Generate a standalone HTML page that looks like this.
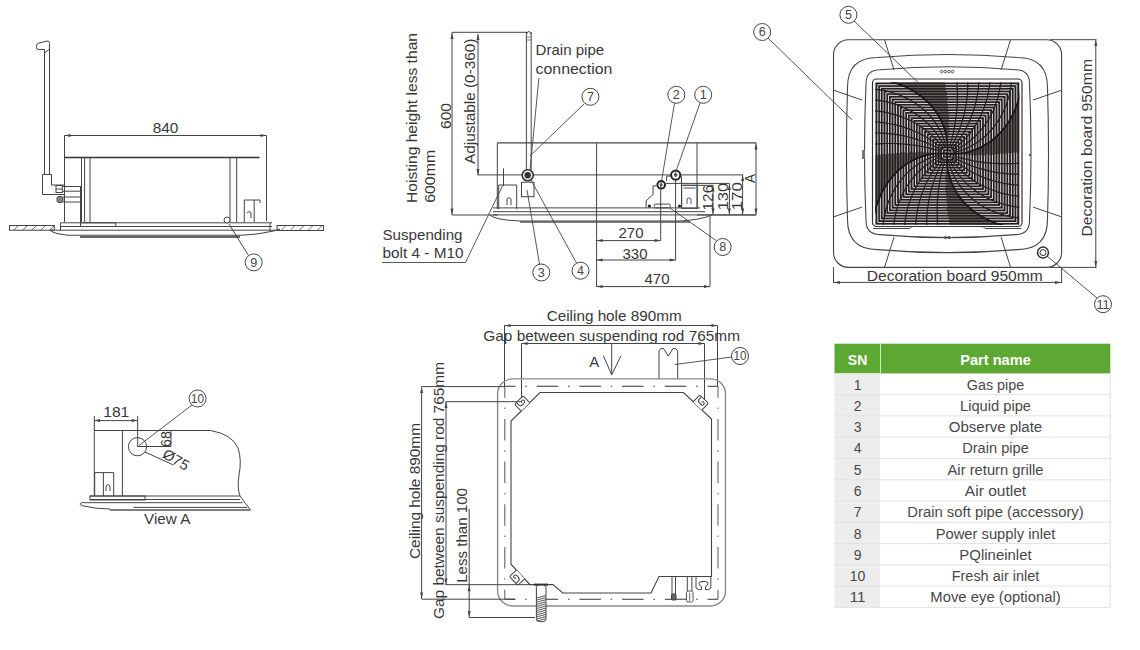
<!DOCTYPE html>
<html><head><meta charset="utf-8"><style>
html,body{margin:0;padding:0;background:#fff;width:1140px;height:650px;overflow:hidden}
svg{display:block;font-family:"Liberation Sans",sans-serif}
</style></head><body>
<svg width="1140" height="650" viewBox="0 0 1140 650">
<path d="M44.5,175 L44.5,49.5 L38.5,49.5 Q36.5,49.5 36.5,47.5 L36.5,45.5 Q36.8,43.5 39,43 L47,41 Q49.5,40.5 49.5,43.5 L49.5,175" stroke="#444" stroke-width="1" fill="none" />
<line x1="44.5" y1="53" x2="49.5" y2="49" stroke="#444" stroke-width="1" />
<path d="M42.5,174.5 L51.5,174.5 L51.5,185 L65,185 M42.5,174.5 L42.5,194.5 L65,194.5" stroke="#444" stroke-width="1" fill="none" />
<rect x="56" y="185.5" width="6.3" height="7" rx="0" stroke="#444" stroke-width="1" fill="none" />
<line x1="56" y1="189" x2="62.3" y2="189" stroke="#444" stroke-width="1" />
<path d="M62.3,186.5 L81,186.5 M62.3,191.2 L81,191.2" stroke="#444" stroke-width="1" fill="none" />
<rect x="57" y="196.5" width="6" height="6" rx="2" stroke="#444" stroke-width="1" fill="#888" />
<path d="M63,197 L80,197 M63,202 L80,202" stroke="#444" stroke-width="1" fill="none" />
<line x1="80.5" y1="186" x2="80.5" y2="222" stroke="#444" stroke-width="1" />
<line x1="64.5" y1="135.5" x2="266.5" y2="135.5" stroke="#444" stroke-width="1" />
<path d="M64.5,135.5 L70.5,134.0 L70.5,137.0 Z" fill="#444"/>
<path d="M266.5,135.5 L260.5,134.0 L260.5,137.0 Z" fill="#444"/>
<line x1="64.5" y1="135.5" x2="64.5" y2="222" stroke="#444" stroke-width="1" />
<line x1="266.5" y1="135.5" x2="266.5" y2="221" stroke="#444" stroke-width="1" />
<text x="165.5" y="132.8" font-size="14.6" fill="#383838" font-weight="normal" text-anchor="middle" textLength="25.7" lengthAdjust="spacingAndGlyphs"  >840</text>
<line x1="65" y1="157.5" x2="259.5" y2="157.5" stroke="#333" stroke-width="1.4" />
<line x1="81.5" y1="157.5" x2="81.5" y2="222" stroke="#444" stroke-width="1" />
<line x1="84.6" y1="157.5" x2="84.6" y2="222" stroke="#444" stroke-width="1" />
<line x1="90" y1="157.5" x2="90" y2="222" stroke="#444" stroke-width="1" />
<line x1="230" y1="157.5" x2="230" y2="222" stroke="#444" stroke-width="1" />
<line x1="236.7" y1="157.5" x2="236.7" y2="222" stroke="#444" stroke-width="1" />
<path d="M244.3,222 L244.3,200 L254.2,200 L254.2,222 M254.2,200 L260,200 L260,203" stroke="#444" stroke-width="1" fill="none" />
<path d="M247,213 Q249,210 251,213 L251,218" stroke="#444" stroke-width="1" fill="none" />
<path d="M60.5,222.8 L272,222.8 M60.5,226.5 L272,226.5 M50,230.2 L276,230.2 M60.5,222.8 L60.5,230.2 M270,222.8 L270,230.2" stroke="#444" stroke-width="1" fill="none" />
<rect x="80.5" y="222.8" width="35.3" height="3.7" rx="0" stroke="#444" stroke-width="1" fill="none" />
<rect x="9.5" y="225.5" width="44.8" height="4.699999999999989" rx="0" stroke="#444" stroke-width="1" fill="none" />
<line x1="13.5" y1="230.2" x2="18.5" y2="225.5" stroke="#444" stroke-width="0.8" />
<line x1="22.5" y1="230.2" x2="27.5" y2="225.5" stroke="#444" stroke-width="0.8" />
<line x1="31.5" y1="230.2" x2="36.5" y2="225.5" stroke="#444" stroke-width="0.8" />
<line x1="40.5" y1="230.2" x2="45.5" y2="225.5" stroke="#444" stroke-width="0.8" />
<line x1="49.5" y1="230.2" x2="54.5" y2="225.5" stroke="#444" stroke-width="0.8" />
<rect x="277" y="225.5" width="46.5" height="5.0" rx="0" stroke="#444" stroke-width="1" fill="none" />
<line x1="281" y1="230.5" x2="286" y2="225.5" stroke="#444" stroke-width="0.8" />
<line x1="290" y1="230.5" x2="295" y2="225.5" stroke="#444" stroke-width="0.8" />
<line x1="299" y1="230.5" x2="304" y2="225.5" stroke="#444" stroke-width="0.8" />
<line x1="308" y1="230.5" x2="313" y2="225.5" stroke="#444" stroke-width="0.8" />
<line x1="317" y1="230.5" x2="322" y2="225.5" stroke="#444" stroke-width="0.8" />
<path d="M50,230.2 Q55,234.5 68.5,235.3 L240,235.3 Q265,234 280,229" stroke="#444" stroke-width="1.1" fill="none" />
<path d="M80,237 L240,237" stroke="#333" stroke-width="1.6" fill="none" />
<circle cx="227" cy="220" r="3" stroke="#444" fill="#fff"/>
<line x1="229" y1="224" x2="248.5" y2="255.5" stroke="#444" stroke-width="1" />
<circle cx="253.7" cy="262.4" r="8.5" stroke="#444" stroke-width="1" fill="#fff"/>
<text x="253.7" y="266.7" font-size="12" fill="#444" font-weight="normal" text-anchor="middle" textLength="7" lengthAdjust="spacingAndGlyphs"  >9</text>
<text x="416.9" y="203" font-size="14.6" fill="#383838" font-weight="normal" text-anchor="start" textLength="170" lengthAdjust="spacingAndGlyphs" transform="rotate(-90 416.9 203)" >Hoisting height less than</text>
<text x="435.4" y="202.8" font-size="14.6" fill="#383838" font-weight="normal" text-anchor="start" textLength="53" lengthAdjust="spacingAndGlyphs" transform="rotate(-90 435.4 202.8)" >600mm</text>
<text x="450.8" y="129" font-size="14.6" fill="#383838" font-weight="normal" text-anchor="start" textLength="26" lengthAdjust="spacingAndGlyphs" transform="rotate(-90 450.8 129)" >600</text>
<text x="475.4" y="164" font-size="14.6" fill="#383838" font-weight="normal" text-anchor="start" textLength="125.5" lengthAdjust="spacingAndGlyphs" transform="rotate(-90 475.4 164)" >Adjustable (0-360)</text>
<line x1="452" y1="32.3" x2="452" y2="215" stroke="#444" stroke-width="1" />
<path d="M452,33 L450.5,39 L453.5,39 Z" fill="#444"/>
<path d="M452,214.5 L450.5,208.5 L453.5,208.5 Z" fill="#444"/>
<line x1="452" y1="32.3" x2="528" y2="32.3" stroke="#444" stroke-width="1" />
<line x1="478" y1="33.8" x2="478" y2="175.3" stroke="#444" stroke-width="1" />
<path d="M478,34 L476.5,40 L479.5,40 Z" fill="#444"/>
<path d="M478,175 L476.5,169 L479.5,169 Z" fill="#444"/>
<line x1="452" y1="215" x2="498" y2="215" stroke="#444" stroke-width="1" />
<path d="M526.4,32 L526.4,170 M531.2,32 L531.2,170" stroke="#444" stroke-width="1" fill="none" />
<path d="M526.4,34 Q528.8,29 531.2,34" stroke="#444" stroke-width="1" fill="none" />
<line x1="526.4" y1="37" x2="531.2" y2="37" stroke="#444" stroke-width="0.7" />
<line x1="526.4" y1="40" x2="531.2" y2="40" stroke="#444" stroke-width="0.7" />
<text x="535.6" y="55" font-size="14.6" fill="#383838" font-weight="normal" text-anchor="start" textLength="68.6" lengthAdjust="spacingAndGlyphs"  >Drain pipe</text>
<text x="535.6" y="73.7" font-size="14.6" fill="#383838" font-weight="normal" text-anchor="start" textLength="76.7" lengthAdjust="spacingAndGlyphs"  >connection</text>
<line x1="538.9" y1="78" x2="530" y2="170" stroke="#444" stroke-width="0.9" />
<line x1="497.3" y1="142.8" x2="756" y2="142.8" stroke="#444" stroke-width="1.2" />
<line x1="497.3" y1="142.8" x2="497.3" y2="209" stroke="#444" stroke-width="1" />
<line x1="697" y1="142.8" x2="697" y2="209" stroke="#444" stroke-width="1" />
<line x1="596.6" y1="142.8" x2="596.6" y2="287" stroke="#444" stroke-width="1" />
<line x1="478" y1="174.9" x2="742.6" y2="174.9" stroke="#444" stroke-width="1" />
<circle cx="527.7" cy="175.3" r="5.5" stroke="#333" stroke-width="1.6" fill="#fff"/><circle cx="527.7" cy="175.3" r="3.2" fill="#333"/>
<rect x="521.5" y="182.2" width="12.5" height="14.5" rx="0" stroke="#444" stroke-width="1" fill="none" />
<path d="M498.7,209 L498.7,185 L516.7,185 L516.7,209" stroke="#444" stroke-width="1" fill="none" />
<line x1="503.5" y1="168.4" x2="503.5" y2="186" stroke="#444" stroke-width="1" />
<path d="M507,205 L507,199 Q509,196 511,199 L511,205" stroke="#444" stroke-width="1" fill="none" />
<path d="M493,207.9 L700,207.9 M493,211.7 L705,211.7 M493,214.9 L756,214.9" stroke="#444" stroke-width="1" fill="none" />
<path d="M490,215 Q495,220 520,221 L680,221 Q700,220 712,215" stroke="#444" stroke-width="1" fill="none" />
<path d="M520,222 L690,222" stroke="#555" stroke-width="1.3" fill="none" />
<path d="M666.6,176.1 L666.6,181 M653.1,185.8 L656.5,185.8 M653.1,185.8 L653.1,194.4 L646.1,200.9 L646.1,207.5" stroke="#444" stroke-width="1" fill="none" />
<path d="M670.5,176.1 L666.6,176.1" stroke="#444" stroke-width="1" fill="none" />
<circle cx="675.7" cy="175.1" r="4.6" stroke="#222" stroke-width="2" fill="#fff"/><circle cx="675.7" cy="175.1" r="1.8" fill="#555"/>
<circle cx="661.2" cy="184.8" r="3.8" stroke="#222" stroke-width="2" fill="#fff"/><circle cx="661.2" cy="184.8" r="1.5" fill="#555"/>
<path d="M681.5,176.5 L681.5,206.5" stroke="#444" stroke-width="1" fill="none" />
<circle cx="649.4" cy="206" r="1.6" fill="#222"/><circle cx="679.5" cy="206" r="1.6" fill="#222"/>
<rect x="654.2" y="204.1" width="16.2" height="3.8" rx="1.5" stroke="#444" stroke-width="1" fill="none" />
<rect x="681.7" y="185.3" width="15.6" height="23.1" rx="0" stroke="#444" stroke-width="1" fill="none" />
<path d="M683.5,188 L695.5,188" stroke="#444" stroke-width="1" fill="none" />
<path d="M687,204 L687,199 Q689,196.5 691,199 L691,204" stroke="#444" stroke-width="0.9" fill="none" />
<line x1="697" y1="215" x2="756" y2="215" stroke="#444" stroke-width="1" />
<line x1="713" y1="185" x2="713" y2="215" stroke="#444" stroke-width="1" />
<line x1="683" y1="185.3" x2="713" y2="185.3" stroke="#444" stroke-width="1" />
<line x1="729.4" y1="183.4" x2="729.4" y2="215" stroke="#444" stroke-width="1" />
<line x1="666" y1="183.4" x2="729.4" y2="183.4" stroke="#444" stroke-width="1" />
<line x1="742.6" y1="174.4" x2="742.6" y2="215" stroke="#444" stroke-width="1" />
<line x1="756" y1="142.8" x2="756" y2="215" stroke="#444" stroke-width="1" />
<path d="M756,143.5 L754.5,149.5 L757.5,149.5 Z" fill="#444"/>
<path d="M756,214.5 L754.5,208.5 L757.5,208.5 Z" fill="#444"/>
<path d="M713,185.5 L711.5,191.5 L714.5,191.5 Z" fill="#444"/>
<path d="M713,214.5 L711.5,208.5 L714.5,208.5 Z" fill="#444"/>
<path d="M729.4,184 L727.9,190 L730.9,190 Z" fill="#444"/>
<path d="M729.4,214.5 L727.9,208.5 L730.9,208.5 Z" fill="#444"/>
<path d="M742.6,175 L741.1,181 L744.1,181 Z" fill="#444"/>
<path d="M742.6,214.5 L741.1,208.5 L744.1,208.5 Z" fill="#444"/>
<text x="713" y="197.6" font-size="14.6" fill="#383838" font-weight="normal" text-anchor="middle" textLength="25.6" lengthAdjust="spacingAndGlyphs" transform="rotate(-90 713 197.6)" >126</text>
<text x="727.5" y="196.5" font-size="14.6" fill="#383838" font-weight="normal" text-anchor="middle" textLength="27.7" lengthAdjust="spacingAndGlyphs" transform="rotate(-90 727.5 196.5)" >130</text>
<text x="742" y="196.2" font-size="14.6" fill="#383838" font-weight="normal" text-anchor="middle" textLength="28.4" lengthAdjust="spacingAndGlyphs" transform="rotate(-90 742 196.2)" >170</text>
<text x="755.2" y="178.5" font-size="14.6" fill="#383838" font-weight="normal" text-anchor="middle" textLength="9" lengthAdjust="spacingAndGlyphs" transform="rotate(-90 755.2 178.5)" >A</text>
<line x1="660.7" y1="186" x2="660.7" y2="240.6" stroke="#444" stroke-width="1" />
<line x1="675.6" y1="180" x2="675.6" y2="260" stroke="#444" stroke-width="1" />
<line x1="710" y1="215" x2="710" y2="286.6" stroke="#444" stroke-width="1" />
<line x1="596.6" y1="240.6" x2="660.7" y2="240.6" stroke="#444" stroke-width="1" />
<path d="M596.6,240.6 L602.6,239.1 L602.6,242.1 Z" fill="#444"/>
<path d="M660.7,240.6 L654.7,239.1 L654.7,242.1 Z" fill="#444"/>
<line x1="596.6" y1="260" x2="675.6" y2="260" stroke="#444" stroke-width="1" />
<path d="M596.6,260 L602.6,258.5 L602.6,261.5 Z" fill="#444"/>
<path d="M675.6,260 L669.6,258.5 L669.6,261.5 Z" fill="#444"/>
<line x1="596.6" y1="286.6" x2="710" y2="286.6" stroke="#444" stroke-width="1" />
<path d="M596.6,286.6 L602.6,285.1 L602.6,288.1 Z" fill="#444"/>
<path d="M710,286.6 L704,285.1 L704,288.1 Z" fill="#444"/>
<text x="631" y="238" font-size="14.6" fill="#383838" font-weight="normal" text-anchor="middle" textLength="25" lengthAdjust="spacingAndGlyphs"  >270</text>
<text x="635" y="258.5" font-size="14.6" fill="#383838" font-weight="normal" text-anchor="middle" textLength="25" lengthAdjust="spacingAndGlyphs"  >330</text>
<text x="657" y="284.3" font-size="14.6" fill="#383838" font-weight="normal" text-anchor="middle" textLength="25" lengthAdjust="spacingAndGlyphs"  >470</text>
<text x="382.5" y="239.8" font-size="14.6" fill="#383838" font-weight="normal" text-anchor="start" textLength="80" lengthAdjust="spacingAndGlyphs"  >Suspending</text>
<text x="382.5" y="258" font-size="14.6" fill="#383838" font-weight="normal" text-anchor="start" textLength="81" lengthAdjust="spacingAndGlyphs"  >bolt 4 - M10</text>
<path d="M382,262.5 L465.5,262.5 L502.4,186" stroke="#444" stroke-width="0.9" fill="none" />
<line x1="584" y1="104" x2="530" y2="156" stroke="#444" stroke-width="0.9" />
<circle cx="590.4" cy="96.8" r="8.5" stroke="#444" stroke-width="1" fill="#fff"/>
<text x="590.4" y="101.1" font-size="12" fill="#444" font-weight="normal" text-anchor="middle" textLength="7" lengthAdjust="spacingAndGlyphs"  >7</text>
<line x1="674.5" y1="103.3" x2="661" y2="184" stroke="#444" stroke-width="0.9" />
<circle cx="676.3" cy="94.8" r="8.5" stroke="#444" stroke-width="1" fill="#fff"/>
<text x="676.3" y="99.1" font-size="12" fill="#444" font-weight="normal" text-anchor="middle" textLength="7" lengthAdjust="spacingAndGlyphs"  >2</text>
<line x1="700" y1="103" x2="674.7" y2="175" stroke="#444" stroke-width="0.9" />
<circle cx="703.2" cy="94.8" r="8.5" stroke="#444" stroke-width="1" fill="#fff"/>
<text x="703.2" y="99.1" font-size="12" fill="#444" font-weight="normal" text-anchor="middle" textLength="7" lengthAdjust="spacingAndGlyphs"  >1</text>
<line x1="527" y1="190" x2="539.5" y2="264" stroke="#444" stroke-width="0.9" />
<circle cx="541.3" cy="272.5" r="8.5" stroke="#444" stroke-width="1" fill="#fff"/>
<text x="541.3" y="276.8" font-size="12" fill="#444" font-weight="normal" text-anchor="middle" textLength="7" lengthAdjust="spacingAndGlyphs"  >3</text>
<line x1="531" y1="180" x2="576.5" y2="263" stroke="#444" stroke-width="0.9" />
<circle cx="580.5" cy="270.7" r="8.5" stroke="#444" stroke-width="1" fill="#fff"/>
<text x="580.5" y="275.0" font-size="12" fill="#444" font-weight="normal" text-anchor="middle" textLength="7" lengthAdjust="spacingAndGlyphs"  >4</text>
<line x1="716.3" y1="240.6" x2="670" y2="208" stroke="#444" stroke-width="0.9" />
<circle cx="722.7" cy="247" r="8.5" stroke="#444" stroke-width="1" fill="#fff"/>
<text x="722.7" y="251.3" font-size="12" fill="#444" font-weight="normal" text-anchor="middle" textLength="7" lengthAdjust="spacingAndGlyphs"  >8</text>
<rect x="833.5" y="39.7" width="228.1" height="227.7" rx="15" fill="none" stroke="#444" stroke-width="1.1"/>
<path d="M877.5,57.5 Q947.5,51.5 1017.5,57.5 Q1047.5,57.5 1047.5,87.5 Q1049.5,153.55 1047.5,219.6 Q1047.5,249.6 1017.5,249.6 Q947.5,255.6 877.5,249.6 Q847.5,249.6 847.5,219.6 Q845.5,153.55 847.5,87.5 Q847.5,57.5 877.5,57.5 Z" fill="none" stroke="#444" stroke-width="1.1"/>
<path d="M880,69.8 Q947.75,63.8 1015.5,69.8 Q1029.5,69.8 1029.5,83.8 Q1032.5,152.2 1029.5,220.6 Q1029.5,234.6 1015.5,234.6 Q947.75,240.6 880,234.6 Q866,234.6 866,220.6 Q863,152.2 866,83.8 Q866,69.8 880,69.8 Z" fill="none" stroke="#444" stroke-width="1.1"/>
<line x1="884.5" y1="39.7" x2="894.0" y2="70.0" stroke="#444" stroke-width="1"/>
<line x1="884.5" y1="267.4" x2="894.0" y2="237.1" stroke="#444" stroke-width="1"/>
<line x1="1010.6" y1="39.7" x2="1001.1" y2="70.0" stroke="#444" stroke-width="1"/>
<line x1="1010.6" y1="267.4" x2="1001.1" y2="237.1" stroke="#444" stroke-width="1"/>
<line x1="833.5" y1="90.2" x2="862.0" y2="100.0" stroke="#444" stroke-width="1"/>
<line x1="833.5" y1="216.9" x2="862.0" y2="207.1" stroke="#444" stroke-width="1"/>
<line x1="1061.6" y1="90.2" x2="1033.1" y2="100.0" stroke="#444" stroke-width="1"/>
<line x1="1061.6" y1="216.9" x2="1033.1" y2="207.1" stroke="#444" stroke-width="1"/>
<rect x="872.5" y="79" width="149.5" height="147.5" rx="4" fill="#fff" stroke="#333" stroke-width="1.2"/><path d="M873,228.5 L910,228.5 L912,226.5 M1021.5,228.5 L985,228.5 L983,226.5" fill="none" stroke="#444" stroke-width="1"/>
<rect x="875.2" y="82.2" width="144.1" height="142.8" fill="#231f1e"/>
<clipPath id="gc"><rect x="875.2" y="82.2" width="144.1" height="142.8"/></clipPath>
<g clip-path="url(#gc)" fill="none">
<path d="M946.6 140.9L947.9 140.9M960.0 153.0L960.0 154.2M947.9 166.3L946.6 166.3M934.5 154.2L934.5 153.0M946.6 138.2L947.9 138.2M962.8 153.0L962.8 154.2M947.9 169.0L946.6 169.0M931.8 154.2L931.8 153.0M946.0 135.6L948.5 135.6M965.5 152.4L965.5 154.8M948.5 171.6L946.0 171.6M929.0 154.8L929.0 152.4M944.8 132.9L948.5 132.9M968.1 151.2L968.1 154.8M949.7 174.3L946.0 174.3M926.4 156.0L926.4 152.4M944.2 130.2L949.1 130.2M970.9 151.1L970.9 154.8M950.3 177.0L945.4 177.0M923.6 156.1L923.6 152.4M943.0 127.5L949.1 127.5M973.5 149.4L973.5 155.4M951.5 179.7L945.4 179.7M921.0 157.8L921.0 151.8M942.4 124.9L948.5 124.9M976.2 149.3L976.2 155.4M952.1 182.3L946.0 182.3M918.2 157.9L918.2 151.8M941.2 122.2L948.5 122.2M979.0 147.6L979.0 154.8M953.3 185.0L946.0 185.0M915.5 159.6L915.5 152.4M940.6 119.5L949.1 119.5M981.6 146.3L981.6 154.8M953.9 187.7L945.4 187.7M912.9 160.9L912.9 152.4M938.1 116.8L949.1 116.8M984.4 144.6L984.4 155.4M956.4 190.4L945.4 190.4M910.1 162.6L910.1 151.8M937.6 114.2L948.5 114.2M987.0 143.3L987.0 154.2M956.9 193.0L946.0 193.0M907.5 163.9L907.5 153.0M935.1 111.5L948.5 111.5M989.8 141.6L989.8 154.8M959.4 195.7L946.0 195.7M904.8 165.6L904.8 152.4M933.4 108.8L947.9 108.8M992.5 139.1L992.5 154.8M961.1 198.4L946.6 198.4M902.0 168.1L902.0 152.4M930.9 106.1L947.9 106.1M995.1 137.4L995.1 154.2M963.6 201.1L946.6 201.1M899.4 169.8L899.4 153.0M929.2 103.5L947.2 103.5M997.9 134.9L997.9 154.2M965.3 203.7L947.2 203.7M896.6 172.3L896.6 153.0M925.4 100.8L947.2 100.8M1000.6 132.0L1000.6 153.6M969.1 206.4L947.2 206.4M893.9 175.2L893.9 153.6M922.6 98.1L947.9 98.1M1003.2 128.3L1003.2 153.6M971.9 209.1L946.6 209.1M891.2 178.9L891.2 153.6M920.0 95.4L946.6 95.4M1006.0 125.7L1006.0 153.6M974.5 211.8L947.9 211.8M888.5 181.5L888.5 153.6M915.9 92.8L947.2 92.8M1008.6 121.7L1008.6 153.0M978.6 214.4L947.2 214.4M885.9 185.5L885.9 154.2M911.0 90.1L946.0 90.1M1011.4 116.7L1011.4 153.0M983.5 217.1L948.5 217.1M883.1 190.5L883.1 154.2M905.7 87.4L945.4 87.4M1014.1 111.5L1014.1 152.4M988.8 219.8L949.1 219.8M880.4 195.7L880.4 154.8M899.5 84.7L945.4 84.7M1016.8 104.1L1016.8 152.4M995.0 222.5L949.1 222.5M877.8 203.1L877.8 154.8M891.9 82.1L944.8 82.1M1019.5 95.3L1019.5 151.8M1002.6 225.1L949.7 225.1M875.0 211.9L875.0 155.4" stroke="#8f8984" stroke-width="0.7"/>
<path d="M945.2 151.6L949.2 151.6M949.2 151.6L949.2 155.6M949.2 155.6L945.2 155.6M945.2 155.6L945.2 151.6M942.5 148.9L952.0 148.9M952.0 148.9L952.0 158.3M952.0 158.3L942.5 158.3M942.5 158.3L942.5 148.9M939.9 146.3L954.6 146.3M954.6 146.3L954.6 160.9M954.6 160.9L939.9 160.9M939.9 160.9L939.9 146.3M937.1 143.6L957.4 143.6M957.4 143.6L957.4 163.6M957.4 163.6L937.1 163.6M937.1 163.6L937.1 143.6M934.5 140.9L946.6 140.9M947.9 140.9L960.0 140.9M960.0 140.9L960.0 153.0M960.0 154.2L960.0 166.3M960.0 166.3L947.9 166.3M946.6 166.3L934.5 166.3M934.5 166.3L934.5 154.2M934.5 153.0L934.5 140.9M931.8 138.2L946.6 138.2M947.9 138.2L962.8 138.2M962.8 138.2L962.8 153.0M962.8 154.2L962.8 169.0M962.8 169.0L947.9 169.0M946.6 169.0L931.8 169.0M931.8 169.0L931.8 154.2M931.8 153.0L931.8 138.2M929.0 135.6L946.0 135.6M948.5 135.6L965.5 135.6M965.5 135.6L965.5 152.4M965.5 154.8L965.5 171.6M965.5 171.6L948.5 171.6M946.0 171.6L929.0 171.6M929.0 171.6L929.0 154.8M929.0 152.4L929.0 135.6M926.4 132.9L944.8 132.9M948.5 132.9L968.1 132.9M968.1 132.9L968.1 151.2M968.1 154.8L968.1 174.3M968.1 174.3L949.7 174.3M946.0 174.3L926.4 174.3M926.4 174.3L926.4 156.0M926.4 152.4L926.4 132.9M923.6 130.2L944.2 130.2M949.1 130.2L970.9 130.2M970.9 130.2L970.9 151.1M970.9 154.8L970.9 177.0M970.9 177.0L950.3 177.0M945.4 177.0L923.6 177.0M923.6 177.0L923.6 156.1M923.6 152.4L923.6 130.2M921.0 127.5L943.0 127.5M949.1 127.5L973.5 127.5M973.5 127.5L973.5 149.4M973.5 155.4L973.5 179.7M973.5 179.7L951.5 179.7M945.4 179.7L921.0 179.7M921.0 179.7L921.0 157.8M921.0 151.8L921.0 127.5M918.2 124.9L942.4 124.9M948.5 124.9L976.2 124.9M976.2 124.9L976.2 149.3M976.2 155.4L976.2 182.3M976.2 182.3L952.1 182.3M946.0 182.3L918.2 182.3M918.2 182.3L918.2 157.9M918.2 151.8L918.2 124.9M915.5 122.2L941.2 122.2M948.5 122.2L979.0 122.2M979.0 122.2L979.0 147.6M979.0 154.8L979.0 185.0M979.0 185.0L953.3 185.0M946.0 185.0L915.5 185.0M915.5 185.0L915.5 159.6M915.5 152.4L915.5 122.2M912.9 119.5L940.6 119.5M949.1 119.5L981.6 119.5M981.6 119.5L981.6 146.3M981.6 154.8L981.6 187.7M981.6 187.7L953.9 187.7M945.4 187.7L912.9 187.7M912.9 187.7L912.9 160.9M912.9 152.4L912.9 119.5M910.1 116.8L938.1 116.8M949.1 116.8L984.4 116.8M984.4 116.8L984.4 144.6M984.4 155.4L984.4 190.4M984.4 190.4L956.4 190.4M945.4 190.4L910.1 190.4M910.1 190.4L910.1 162.6M910.1 151.8L910.1 116.8M907.5 114.2L937.6 114.2M948.5 114.2L987.0 114.2M987.0 114.2L987.0 143.3M987.0 154.2L987.0 193.0M987.0 193.0L956.9 193.0M946.0 193.0L907.5 193.0M907.5 193.0L907.5 163.9M907.5 153.0L907.5 114.2M904.8 111.5L935.1 111.5M948.5 111.5L989.8 111.5M989.8 111.5L989.8 141.6M989.8 154.8L989.8 195.7M989.8 195.7L959.4 195.7M946.0 195.7L904.8 195.7M904.8 195.7L904.8 165.6M904.8 152.4L904.8 111.5M902.0 108.8L933.4 108.8M947.9 108.8L992.5 108.8M992.5 108.8L992.5 139.1M992.5 154.8L992.5 198.4M992.5 198.4L961.1 198.4M946.6 198.4L902.0 198.4M902.0 198.4L902.0 168.1M902.0 152.4L902.0 108.8M899.4 106.1L930.9 106.1M947.9 106.1L995.1 106.1M995.1 106.1L995.1 137.4M995.1 154.2L995.1 201.1M995.1 201.1L963.6 201.1M946.6 201.1L899.4 201.1M899.4 201.1L899.4 169.8M899.4 153.0L899.4 106.1M896.6 103.5L929.2 103.5M947.2 103.5L997.9 103.5M997.9 103.5L997.9 134.9M997.9 154.2L997.9 203.7M997.9 203.7L965.3 203.7M947.2 203.7L896.6 203.7M896.6 203.7L896.6 172.3M896.6 153.0L896.6 103.5M893.9 100.8L925.4 100.8M947.2 100.8L1000.6 100.8M1000.6 100.8L1000.6 132.0M1000.6 153.6L1000.6 206.4M1000.6 206.4L969.1 206.4M947.2 206.4L893.9 206.4M893.9 206.4L893.9 175.2M893.9 153.6L893.9 100.8M891.2 98.1L922.6 98.1M947.9 98.1L1003.2 98.1M1003.2 98.1L1003.2 128.3M1003.2 153.6L1003.2 209.1M1003.2 209.1L971.9 209.1M946.6 209.1L891.2 209.1M891.2 209.1L891.2 178.9M891.2 153.6L891.2 98.1M888.5 95.4L920.0 95.4M946.6 95.4L1006.0 95.4M1006.0 95.4L1006.0 125.7M1006.0 153.6L1006.0 211.8M1006.0 211.8L974.5 211.8M947.9 211.8L888.5 211.8M888.5 211.8L888.5 181.5M888.5 153.6L888.5 95.4M885.9 92.8L915.9 92.8M947.2 92.8L1008.6 92.8M1008.6 92.8L1008.6 121.7M1008.6 153.0L1008.6 214.4M1008.6 214.4L978.6 214.4M947.2 214.4L885.9 214.4M885.9 214.4L885.9 185.5M885.9 154.2L885.9 92.8M883.1 90.1L911.0 90.1M946.0 90.1L1011.4 90.1M1011.4 90.1L1011.4 116.7M1011.4 153.0L1011.4 217.1M1011.4 217.1L983.5 217.1M948.5 217.1L883.1 217.1M883.1 217.1L883.1 190.5M883.1 154.2L883.1 90.1M880.4 87.4L905.7 87.4M945.4 87.4L1014.1 87.4M1014.1 87.4L1014.1 111.5M1014.1 152.4L1014.1 219.8M1014.1 219.8L988.8 219.8M949.1 219.8L880.4 219.8M880.4 219.8L880.4 195.7M880.4 154.8L880.4 87.4M877.8 84.7L899.5 84.7M945.4 84.7L1016.8 84.7M1016.8 84.7L1016.8 104.1M1016.8 152.4L1016.8 222.5M1016.8 222.5L995.0 222.5M949.1 222.5L877.8 222.5M877.8 222.5L877.8 203.1M877.8 154.8L877.8 84.7M875.0 82.1L891.9 82.1M944.8 82.1L1019.5 82.1M1019.5 82.1L1019.5 95.3M1019.5 151.8L1019.5 225.1M1019.5 225.1L1002.6 225.1M949.7 225.1L875.0 225.1M875.0 225.1L875.0 211.9M875.0 155.4L875.0 82.1" stroke="#e6e2de" stroke-width="0.95"/>
<path d="M941.6 151.6 L938.7 150.7 L935.8 149.9 L932.9 149.1 L930.0 148.4 L927.1 147.7 L924.2 147.0 L921.2 146.4 L918.3 145.9 L915.3 145.4 L912.3 145.0 L909.3 144.6 L906.3 144.3 L903.3 144.0 L900.3 143.8 L897.2 143.6 L894.2 143.5 L891.2 143.5 L888.1 143.5 L885.1 143.5 L882.0 143.6 L879.0 143.8 L875.9 144.0 L872.8 144.3M942.1 150.5 L939.5 149.0 L936.9 147.6 L934.2 146.3 L931.5 145.0 L928.7 143.8 L925.9 142.6 L923.1 141.5 L920.3 140.5 L917.4 139.5 L914.5 138.6 L911.6 137.8 L908.7 137.0 L905.7 136.3 L902.7 135.7 L899.7 135.1 L896.7 134.6 L893.7 134.2 L890.6 133.8 L887.5 133.5 L884.5 133.3 L881.4 133.1 L878.2 133.0 L875.1 133.0 L872.0 133.1M942.9 149.5 L940.6 147.5 L938.3 145.6 L936.0 143.7 L933.5 141.9 L931.0 140.2 L928.5 138.6 L925.9 137.0 L923.3 135.5 L920.6 134.1 L917.9 132.7 L915.1 131.5 L912.3 130.3 L909.5 129.1 L906.6 128.1 L903.7 127.1 L900.7 126.2 L897.7 125.4 L894.7 124.7 L891.6 124.0 L888.5 123.5 L885.4 123.0 L882.3 122.6 L879.1 122.3 L875.9 122.0 L872.7 121.9M943.9 148.6 L942.1 146.2 L940.2 143.9 L938.2 141.6 L936.2 139.4 L934.1 137.3 L931.9 135.2 L929.6 133.2 L927.2 131.3 L924.8 129.4 L922.3 127.6 L919.8 125.9 L917.2 124.3 L914.5 122.8 L911.7 121.3 L908.9 119.9 L906.1 118.7 L903.2 117.5 L900.2 116.4 L897.2 115.3 L894.1 114.4 L891.0 113.6 L887.9 112.9 L884.7 112.2 L881.5 111.7 L878.2 111.3 L874.9 110.9 L871.6 110.7M945.0 148.0 L943.8 145.3 L942.4 142.6 L940.9 140.0 L939.3 137.5 L937.6 135.0 L935.8 132.5 L933.9 130.1 L931.9 127.8 L929.8 125.6 L927.6 123.4 L925.3 121.3 L923.0 119.3 L920.5 117.4 L918.0 115.6 L915.4 113.8 L912.7 112.1 L909.9 110.6 L907.0 109.1 L904.1 107.7 L901.1 106.4 L898.0 105.2 L894.9 104.1 L891.7 103.2 L888.5 102.3 L885.2 101.5 L881.8 100.9 L878.4 100.4 L875.0 99.9 L871.5 99.6M946.3 147.7 L945.6 144.8 L944.8 141.9 L943.8 139.0 L942.7 136.2 L941.5 133.4 L940.2 130.7 L938.7 128.0 L937.1 125.4 L935.4 122.8 L933.6 120.3 L931.7 117.8 L929.6 115.5 L927.4 113.2 L925.2 111.0 L922.8 108.9 L920.3 106.8 L917.7 104.9 L915.0 103.0 L912.2 101.3 L909.3 99.6 L906.3 98.1 L903.2 96.6 L900.1 95.3 L896.8 94.1 L893.5 93.0 L890.1 92.0 L886.7 91.1 L883.2 90.4 L879.6 89.8 L875.9 89.3 L872.2 89.0M949.2 147.9 L950.1 145.1 L950.9 142.2 L951.7 139.3 L952.5 136.4 L953.2 133.5 L953.8 130.5 L954.4 127.6 L954.9 124.6 L955.4 121.6 L955.9 118.6 L956.2 115.7 L956.6 112.6 L956.8 109.6 L957.1 106.6 L957.2 103.6 L957.3 100.5 L957.4 97.5 L957.4 94.5 L957.3 91.4 L957.2 88.4 L957.1 85.3 L956.9 82.2 L956.6 79.2M950.4 148.5 L951.8 145.9 L953.2 143.2 L954.6 140.5 L955.9 137.8 L957.1 135.1 L958.3 132.3 L959.4 129.5 L960.4 126.6 L961.3 123.8 L962.2 120.9 L963.1 118.0 L963.9 115.0 L964.6 112.1 L965.2 109.1 L965.8 106.1 L966.3 103.1 L966.7 100.0 L967.1 97.0 L967.3 93.9 L967.6 90.8 L967.7 87.7 L967.8 84.6 L967.8 81.5 L967.8 78.4M951.4 149.3 L953.4 147.0 L955.3 144.7 L957.1 142.3 L958.9 139.9 L960.6 137.4 L962.3 134.9 L963.8 132.3 L965.3 129.7 L966.8 127.0 L968.1 124.3 L969.4 121.5 L970.6 118.7 L971.7 115.8 L972.8 112.9 L973.7 110.0 L974.6 107.1 L975.4 104.1 L976.2 101.0 L976.8 98.0 L977.4 94.9 L977.9 91.8 L978.3 88.6 L978.6 85.5 L978.8 82.3 L979.0 79.1M952.2 150.2 L954.6 148.4 L957.0 146.5 L959.2 144.6 L961.4 142.5 L963.6 140.4 L965.7 138.2 L967.7 135.9 L969.6 133.6 L971.4 131.2 L973.2 128.7 L974.9 126.1 L976.5 123.5 L978.1 120.8 L979.5 118.1 L980.9 115.3 L982.2 112.4 L983.4 109.5 L984.5 106.6 L985.5 103.5 L986.4 100.5 L987.3 97.4 L988.0 94.2 L988.6 91.0 L989.2 87.8 L989.6 84.6 L989.9 81.3 L990.2 77.9M952.8 151.4 L955.5 150.1 L958.2 148.7 L960.8 147.2 L963.4 145.6 L965.9 143.9 L968.3 142.1 L970.7 140.2 L973.0 138.2 L975.3 136.2 L977.4 134.0 L979.5 131.7 L981.5 129.3 L983.5 126.9 L985.3 124.3 L987.1 121.7 L988.7 119.0 L990.3 116.2 L991.8 113.4 L993.2 110.5 L994.4 107.5 L995.6 104.4 L996.7 101.3 L997.7 98.1 L998.5 94.8 L999.3 91.5 L999.9 88.2 L1000.5 84.8 L1000.9 81.3 L1001.2 77.9M953.2 152.6 L956.1 151.9 L959.0 151.1 L961.9 150.2 L964.7 149.1 L967.5 147.9 L970.2 146.5 L972.9 145.1 L975.5 143.5 L978.1 141.8 L980.6 140.0 L983.0 138.0 L985.4 136.0 L987.7 133.8 L989.9 131.5 L992.0 129.1 L994.0 126.6 L996.0 124.0 L997.8 121.3 L999.6 118.5 L1001.2 115.6 L1002.8 112.7 L1004.2 109.6 L1005.6 106.4 L1006.8 103.2 L1007.9 99.9 L1008.9 96.5 L1009.7 93.0 L1010.4 89.5 L1011.0 85.9 L1011.5 82.3 L1011.9 78.6M952.9 155.6 L955.8 156.5 L958.7 157.3 L961.6 158.1 L964.5 158.8 L967.4 159.5 L970.3 160.2 L973.3 160.8 L976.2 161.3 L979.2 161.8 L982.2 162.2 L985.2 162.6 L988.2 162.9 L991.2 163.2 L994.2 163.4 L997.3 163.6 L1000.3 163.7 L1003.3 163.7 L1006.4 163.7 L1009.4 163.7 L1012.5 163.6 L1015.5 163.4 L1018.6 163.2 L1021.7 162.9M952.4 156.7 L955.0 158.2 L957.6 159.6 L960.3 160.9 L963.0 162.2 L965.8 163.4 L968.6 164.6 L971.4 165.7 L974.2 166.7 L977.1 167.7 L980.0 168.6 L982.9 169.4 L985.8 170.2 L988.8 170.9 L991.8 171.5 L994.8 172.1 L997.8 172.6 L1000.8 173.0 L1003.9 173.4 L1007.0 173.7 L1010.0 173.9 L1013.1 174.1 L1016.3 174.2 L1019.4 174.2 L1022.5 174.1M951.6 157.7 L953.9 159.7 L956.2 161.6 L958.5 163.5 L961.0 165.3 L963.5 167.0 L966.0 168.6 L968.6 170.2 L971.2 171.7 L973.9 173.1 L976.6 174.5 L979.4 175.7 L982.2 176.9 L985.0 178.1 L987.9 179.1 L990.8 180.1 L993.8 181.0 L996.8 181.8 L999.8 182.5 L1002.9 183.2 L1006.0 183.7 L1009.1 184.2 L1012.2 184.6 L1015.4 184.9 L1018.6 185.2 L1021.8 185.3M950.6 158.6 L952.4 161.0 L954.3 163.3 L956.3 165.6 L958.3 167.8 L960.4 169.9 L962.6 172.0 L964.9 174.0 L967.3 175.9 L969.7 177.8 L972.2 179.6 L974.7 181.3 L977.3 182.9 L980.0 184.4 L982.8 185.9 L985.6 187.3 L988.4 188.5 L991.3 189.7 L994.3 190.8 L997.3 191.9 L1000.4 192.8 L1003.5 193.6 L1006.6 194.3 L1009.8 195.0 L1013.0 195.5 L1016.3 195.9 L1019.6 196.3 L1022.9 196.5M949.5 159.2 L950.7 161.9 L952.1 164.6 L953.6 167.2 L955.2 169.7 L956.9 172.2 L958.7 174.7 L960.6 177.1 L962.6 179.4 L964.7 181.6 L966.9 183.8 L969.2 185.9 L971.5 187.9 L974.0 189.8 L976.5 191.6 L979.1 193.4 L981.8 195.1 L984.6 196.6 L987.5 198.1 L990.4 199.5 L993.4 200.8 L996.5 202.0 L999.6 203.1 L1002.8 204.0 L1006.0 204.9 L1009.3 205.7 L1012.7 206.3 L1016.1 206.8 L1019.5 207.3 L1023.0 207.6M948.2 159.5 L948.9 162.4 L949.7 165.3 L950.7 168.2 L951.8 171.0 L953.0 173.8 L954.3 176.5 L955.8 179.2 L957.4 181.8 L959.1 184.4 L960.9 186.9 L962.8 189.4 L964.9 191.7 L967.1 194.0 L969.3 196.2 L971.7 198.3 L974.2 200.4 L976.8 202.3 L979.5 204.2 L982.3 205.9 L985.2 207.6 L988.2 209.1 L991.3 210.6 L994.4 211.9 L997.7 213.1 L1001.0 214.2 L1004.4 215.2 L1007.8 216.1 L1011.3 216.8 L1014.9 217.4 L1018.6 217.9 L1022.3 218.2M945.3 159.3 L944.4 162.1 L943.6 165.0 L942.8 167.9 L942.0 170.8 L941.3 173.7 L940.7 176.7 L940.1 179.6 L939.6 182.6 L939.1 185.6 L938.6 188.6 L938.3 191.5 L937.9 194.6 L937.7 197.6 L937.4 200.6 L937.3 203.6 L937.2 206.7 L937.1 209.7 L937.1 212.7 L937.2 215.8 L937.3 218.8 L937.4 221.9 L937.6 225.0 L937.9 228.0M944.1 158.7 L942.7 161.3 L941.3 164.0 L939.9 166.7 L938.6 169.4 L937.4 172.1 L936.2 174.9 L935.1 177.7 L934.1 180.6 L933.2 183.4 L932.3 186.3 L931.4 189.2 L930.6 192.2 L929.9 195.1 L929.3 198.1 L928.7 201.1 L928.2 204.1 L927.8 207.2 L927.4 210.2 L927.2 213.3 L926.9 216.4 L926.8 219.5 L926.7 222.6 L926.7 225.7 L926.7 228.8M943.1 157.9 L941.1 160.2 L939.2 162.5 L937.4 164.9 L935.6 167.3 L933.9 169.8 L932.2 172.3 L930.7 174.9 L929.2 177.5 L927.7 180.2 L926.4 182.9 L925.1 185.7 L923.9 188.5 L922.8 191.4 L921.7 194.3 L920.8 197.2 L919.9 200.1 L919.1 203.1 L918.3 206.2 L917.7 209.2 L917.1 212.3 L916.6 215.4 L916.2 218.6 L915.9 221.7 L915.7 224.9 L915.5 228.1M942.3 157.0 L939.9 158.8 L937.5 160.7 L935.3 162.6 L933.1 164.7 L930.9 166.8 L928.8 169.0 L926.8 171.3 L924.9 173.6 L923.1 176.0 L921.3 178.5 L919.6 181.1 L918.0 183.7 L916.4 186.4 L915.0 189.1 L913.6 191.9 L912.3 194.8 L911.1 197.7 L910.0 200.6 L909.0 203.7 L908.1 206.7 L907.2 209.8 L906.5 213.0 L905.9 216.2 L905.3 219.4 L904.9 222.6 L904.6 225.9 L904.3 229.3M941.7 155.8 L939.0 157.1 L936.3 158.5 L933.7 160.0 L931.1 161.6 L928.6 163.3 L926.2 165.1 L923.8 167.0 L921.5 169.0 L919.2 171.0 L917.1 173.2 L915.0 175.5 L913.0 177.9 L911.0 180.3 L909.2 182.9 L907.4 185.5 L905.8 188.2 L904.2 191.0 L902.7 193.8 L901.3 196.7 L900.1 199.7 L898.9 202.8 L897.8 205.9 L896.8 209.1 L896.0 212.4 L895.2 215.7 L894.6 219.0 L894.0 222.4 L893.6 225.9 L893.3 229.3M941.3 154.6 L938.4 155.3 L935.5 156.1 L932.6 157.0 L929.8 158.1 L927.0 159.3 L924.3 160.7 L921.6 162.1 L919.0 163.7 L916.4 165.4 L913.9 167.2 L911.5 169.2 L909.1 171.2 L906.8 173.4 L904.6 175.7 L902.5 178.1 L900.5 180.6 L898.5 183.2 L896.7 185.9 L894.9 188.7 L893.3 191.6 L891.7 194.5 L890.3 197.6 L888.9 200.8 L887.7 204.0 L886.6 207.3 L885.6 210.7 L884.8 214.2 L884.1 217.7 L883.5 221.3 L883.0 224.9 L882.6 228.6" stroke="#231f1e" stroke-width="1.2"/>
<path d="M947.3 153.1 L947.5 151.1 L947.5 149.1 L947.6 147.1 L947.5 145.1 L947.4 143.1 L947.2 141.1 L947.0 139.1 L946.6 137.1 L946.3 135.1 L945.8 133.2 L945.3 131.2 L944.7 129.2 L944.1 127.3 L943.3 125.4 L942.6 123.5 L941.7 121.6 L940.8 119.7 L939.8 117.9 L938.8 116.0 L937.7 114.2 L936.5 112.5 L935.3 110.7 L934.0 109.0 L932.7 107.3 L931.3 105.7 L929.8 104.1 L928.3 102.5 L926.7 101.0 L925.1 99.5 L923.4 98.0 L921.6 96.6 L919.8 95.2 L918.0 93.9 L916.1 92.6 L914.1 91.4 L912.1 90.2 L910.0 89.1 L907.9 88.0 L905.8 86.9 L903.6 86.0 L901.4 85.0 L899.1 84.2 L896.7 83.4 L894.4 82.6 L892.0 81.9 L889.5 81.3 L887.1 80.7 L884.6 80.2 L882.0 79.8M947.7 153.6 L949.7 153.8 L951.7 153.9 L953.7 153.9 L955.7 153.9 L957.7 153.7 L959.7 153.6 L961.7 153.3 L963.7 153.0 L965.7 152.6 L967.7 152.2 L969.7 151.6 L971.6 151.1 L973.6 150.4 L975.5 149.7 L977.4 148.9 L979.3 148.1 L981.1 147.2 L983.0 146.2 L984.8 145.1 L986.6 144.0 L988.4 142.9 L990.1 141.7 L991.8 140.4 L993.5 139.0 L995.2 137.6 L996.8 136.2 L998.3 134.6 L999.9 133.1 L1001.4 131.4 L1002.8 129.7 L1004.3 128.0 L1005.6 126.2 L1007.0 124.3 L1008.2 122.4 L1009.5 120.5 L1010.7 118.5 L1011.8 116.4 L1012.9 114.3 L1013.9 112.1 L1014.9 109.9 L1015.8 107.7 L1016.7 105.4 L1017.5 103.1 L1018.2 100.7 L1018.9 98.3 L1019.5 95.9 L1020.1 93.4 L1020.6 90.9 L1021.0 88.4 L1021.4 85.8M947.2 154.1 L947.0 156.1 L947.0 158.1 L946.9 160.1 L947.0 162.1 L947.1 164.1 L947.3 166.1 L947.5 168.1 L947.9 170.1 L948.2 172.1 L948.7 174.0 L949.2 176.0 L949.8 178.0 L950.4 179.9 L951.2 181.8 L951.9 183.7 L952.8 185.6 L953.7 187.5 L954.7 189.3 L955.7 191.2 L956.8 193.0 L958.0 194.7 L959.2 196.5 L960.5 198.2 L961.8 199.9 L963.2 201.5 L964.7 203.1 L966.2 204.7 L967.8 206.2 L969.4 207.7 L971.1 209.2 L972.9 210.6 L974.7 212.0 L976.5 213.3 L978.4 214.6 L980.4 215.8 L982.4 217.0 L984.5 218.1 L986.6 219.2 L988.7 220.3 L990.9 221.2 L993.1 222.2 L995.4 223.0 L997.8 223.8 L1000.1 224.6 L1002.5 225.3 L1005.0 225.9 L1007.4 226.5 L1009.9 227.0 L1012.5 227.4M946.8 153.6 L944.8 153.4 L942.8 153.3 L940.8 153.3 L938.8 153.3 L936.8 153.5 L934.8 153.6 L932.8 153.9 L930.8 154.2 L928.8 154.6 L926.8 155.0 L924.8 155.6 L922.9 156.1 L920.9 156.8 L919.0 157.5 L917.1 158.3 L915.2 159.1 L913.4 160.0 L911.5 161.0 L909.7 162.1 L907.9 163.2 L906.1 164.3 L904.4 165.5 L902.7 166.8 L901.0 168.2 L899.3 169.6 L897.7 171.0 L896.2 172.6 L894.6 174.1 L893.1 175.8 L891.7 177.5 L890.2 179.2 L888.9 181.0 L887.5 182.9 L886.3 184.8 L885.0 186.7 L883.8 188.7 L882.7 190.8 L881.6 192.9 L880.6 195.1 L879.6 197.3 L878.7 199.5 L877.8 201.8 L877.0 204.1 L876.3 206.5 L875.6 208.9 L875.0 211.3 L874.4 213.8 L873.9 216.3 L873.5 218.8 L873.1 221.4" stroke="#1a1716" stroke-width="1.8"/>
</g>
<g fill="none" stroke="#444" stroke-width="0.9"><circle cx="941.5" cy="71.6" r="1.3"/><circle cx="945.2" cy="71.6" r="1.3"/><circle cx="948.9" cy="71.6" r="1.3"/><circle cx="952.6" cy="71.6" r="1.3"/></g>
<g fill="none" stroke="#444" stroke-width="0.9"><circle cx="945.5" cy="237.5" r="1.2"/><circle cx="949" cy="237.5" r="1.2"/></g>
<rect x="862" y="150" width="3" height="9" fill="#777"/>
<circle cx="1030" cy="155" r="1.2" fill="#555"/>
<circle cx="1043" cy="252.6" r="5.5" fill="#fff" stroke="#333" stroke-width="1.5"/><circle cx="1043" cy="252.6" r="3" fill="#fff" stroke="#333" stroke-width="1"/>
<line x1="1050" y1="39.7" x2="1096.5" y2="39.7" stroke="#444"/><line x1="1050" y1="267.4" x2="1096.5" y2="267.4" stroke="#444"/>
<line x1="1095.8" y1="39.7" x2="1095.8" y2="267.4" stroke="#444"/>
<path d="M1095.8,40 L1094.3,46 L1097.3,46 Z M1095.8,267 L1094.3,261 L1097.3,261 Z" fill="#444"/>
<line x1="833.5" y1="267" x2="833.5" y2="283" stroke="#444"/><line x1="1061.6" y1="267" x2="1061.6" y2="283" stroke="#444"/>
<line x1="833.5" y1="282.4" x2="1061.6" y2="282.4" stroke="#444"/>
<path d="M834,282.4 L840,280.9 L840,283.9 Z M1061,282.4 L1055,280.9 L1055,283.9 Z" fill="#444"/>
<text x="866.8" y="280.5" font-size="14" fill="#383838" textLength="176" lengthAdjust="spacingAndGlyphs">Decoration board 950mm</text>
<text x="1092.3" y="236.5" font-size="14" fill="#383838" textLength="177.5" lengthAdjust="spacingAndGlyphs" transform="rotate(-90 1092.3 236.5)">Decoration board 950mm</text>
<line x1="768" y1="38" x2="852" y2="119.8" stroke="#444" stroke-width="0.9"/>
<line x1="853" y1="20" x2="918.5" y2="82.8" stroke="#444" stroke-width="0.9"/>
<line x1="1097" y1="298" x2="1047" y2="256" stroke="#444" stroke-width="0.9"/>
<circle cx="762.2" cy="32" r="8.5" stroke="#444" fill="#fff"/><text x="762.2" y="36.3" font-size="12" fill="#444" text-anchor="middle" textLength="7" lengthAdjust="spacingAndGlyphs">6</text>
<circle cx="848.4" cy="14.8" r="8.5" stroke="#444" fill="#fff"/><text x="848.4" y="19.1" font-size="12" fill="#444" text-anchor="middle" textLength="7" lengthAdjust="spacingAndGlyphs">5</text>
<circle cx="1103" cy="304.2" r="8.5" stroke="#444" fill="#fff"/><text x="1103" y="308.5" font-size="12" fill="#444" text-anchor="middle" textLength="13" lengthAdjust="spacingAndGlyphs">11</text>
<text x="116.3" y="417.4" font-size="14.6" fill="#383838" font-weight="normal" text-anchor="middle" textLength="26" lengthAdjust="spacingAndGlyphs"  >181</text>
<line x1="94" y1="420.6" x2="137.7" y2="420.6" stroke="#444" stroke-width="1" />
<path d="M94,420.6 L100,419.1 L100,422.1 Z" fill="#444"/>
<path d="M137.7,420.6 L131.7,419.1 L131.7,422.1 Z" fill="#444"/>
<line x1="94.3" y1="416" x2="94.3" y2="496" stroke="#444" stroke-width="1" />
<line x1="137.7" y1="416" x2="137.7" y2="446.5" stroke="#444" stroke-width="1" />
<path d="M94,430.5 L210.4,430.5 Q232,434 238,448 Q242,460 239,475 Q237,488 240,496" stroke="#444" stroke-width="1" fill="none" />
<line x1="122.4" y1="430.5" x2="122.4" y2="496" stroke="#444" stroke-width="1" />
<circle cx="137.5" cy="446.7" r="9.1" stroke="#444" fill="#fff"/>
<line x1="137.7" y1="437" x2="137.7" y2="446.5" stroke="#444" stroke-width="1" />
<line x1="137" y1="446.5" x2="171" y2="446.5" stroke="#444" stroke-width="1" />
<line x1="171" y1="430.5" x2="171" y2="446.5" stroke="#444" stroke-width="1" />
<text x="170.5" y="439" font-size="14.6" fill="#383838" font-weight="normal" text-anchor="middle" textLength="16" lengthAdjust="spacingAndGlyphs" transform="rotate(-90 170.5 439)" >68</text>
<line x1="145" y1="452" x2="173.4" y2="465" stroke="#444" stroke-width="1" />
<text x="173.5" y="464" font-size="14.6" fill="#383838" font-weight="normal" text-anchor="middle" textLength="28" lengthAdjust="spacingAndGlyphs" transform="rotate(30 173.5 464)" >Ø75</text>
<line x1="192" y1="405" x2="139" y2="445.5" stroke="#444" stroke-width="0.9" />
<circle cx="197.6" cy="398.5" r="8.5" stroke="#444" stroke-width="1" fill="#fff"/>
<text x="197.6" y="402.8" font-size="12" fill="#444" font-weight="normal" text-anchor="middle" textLength="13" lengthAdjust="spacingAndGlyphs"  >10</text>
<path d="M94.7,496 L94.7,472.6 L113.7,472.6 L113.7,496 M103.4,472.6 L103.4,496" stroke="#444" stroke-width="1" fill="none" />
<path d="M106,491 L106,486 Q108,483 110,486 L110,491" stroke="#444" stroke-width="1" fill="none" />
<path d="M90,496 L240,496 L250.4,510 M90,499.5 L240,499.5 M81.3,502.7 L242.5,502.7 M133.5,507.4 L247,507.4" stroke="#444" stroke-width="1" fill="none" />
<path d="M81.3,502.7 Q78,505 84,506 Q95,509 110,509" stroke="#444" stroke-width="1" fill="none" />
<path d="M110,510 L250.4,510" stroke="#555" stroke-width="1.5" fill="none" />
<rect x="90" y="496" width="55" height="4" rx="0" stroke="#444" stroke-width="1" fill="none" />
<text x="144" y="524" font-size="14.6" fill="#383838" font-weight="normal" text-anchor="start" textLength="46.3" lengthAdjust="spacingAndGlyphs"  >View A</text>
<text x="546.7" y="320.7" font-size="14.6" fill="#383838" font-weight="normal" text-anchor="start" textLength="135" lengthAdjust="spacingAndGlyphs"  >Ceiling hole 890mm</text>
<line x1="504.5" y1="325.5" x2="717.5" y2="325.5" stroke="#444" stroke-width="1" />
<path d="M504.5,325.5 L510.5,324.0 L510.5,327.0 Z" fill="#444"/>
<path d="M717.5,325.5 L711.5,324.0 L711.5,327.0 Z" fill="#444"/>
<line x1="504.5" y1="325.5" x2="504.5" y2="386" stroke="#444" stroke-width="1" />
<line x1="717.5" y1="325.5" x2="717.5" y2="386" stroke="#444" stroke-width="1" />
<text x="483.3" y="340.7" font-size="14.6" fill="#383838" font-weight="normal" text-anchor="start" textLength="256.7" lengthAdjust="spacingAndGlyphs"  >Gap between suspending rod 765mm</text>
<line x1="521.5" y1="343.5" x2="704.5" y2="343.5" stroke="#444" stroke-width="1" />
<path d="M521.5,343.5 L527.5,342.0 L527.5,345.0 Z" fill="#444"/>
<path d="M704.5,343.5 L698.5,342.0 L698.5,345.0 Z" fill="#444"/>
<line x1="521.5" y1="343.5" x2="521.5" y2="401" stroke="#444" stroke-width="1" />
<line x1="704.5" y1="343.5" x2="704.5" y2="401" stroke="#444" stroke-width="1" />
<line x1="611.7" y1="343.3" x2="611.7" y2="375" stroke="#444" stroke-width="1" />
<path d="M603.4,355.8 L611.7,374.8 L621,355.8" stroke="#444" stroke-width="1" fill="none" />
<text x="594.3" y="367" font-size="14.6" fill="#383838" font-weight="normal" text-anchor="middle" textLength="10" lengthAdjust="spacingAndGlyphs"  >A</text>
<path d="M659,379 L659,351 Q660.5,347.5 663.5,348.5 L668.3,356 L673,348.5 Q676.2,347.5 677.7,351 L677.7,379" stroke="#444" stroke-width="1" fill="none" />
<line x1="674.8" y1="364.5" x2="732" y2="357" stroke="#444" stroke-width="0.9" />
<circle cx="740" cy="356" r="8.5" stroke="#444" stroke-width="1" fill="#fff"/>
<text x="740" y="360.3" font-size="12" fill="#444" font-weight="normal" text-anchor="middle" textLength="13" lengthAdjust="spacingAndGlyphs"  >10</text>
<rect x="497.6" y="378.9" width="227.9" height="227.1" rx="15" stroke="#8a8a8a" stroke-width="1.4" fill="none" />
<path d="M504.8,386.2 L718,386.2" fill="none" stroke="#333" stroke-width="1.1" stroke-dasharray="21.5,9.8,1.5,9.9" stroke-dashoffset="10.8"/>
<path d="M504.8,599.2 L718,599.2" fill="none" stroke="#333" stroke-width="1.1" stroke-dasharray="21.5,9.8,1.5,9.9" stroke-dashoffset="10.8"/>
<path d="M504.8,386.2 L504.8,599.6" fill="none" stroke="#666" stroke-width="1.1" stroke-dasharray="21.5,9.8,1.5,9.9" stroke-dashoffset="10"/>
<path d="M718,386.2 L718,599.2" fill="none" stroke="#666" stroke-width="1.1" stroke-dasharray="21.5,9.8,1.5,9.9" stroke-dashoffset="10"/>
<path d="M540,392.5 L683.5,392.5 L711.5,419 L711.5,576.5 L659,576.5 L651,593 L562.7,593 L553,584.6 L530,584.6 L511,564.2 L511,421 Z" stroke="#444" stroke-width="1.1" fill="none" />
<g transform="translate(525.5 406.8) rotate(-45)"><path d="M-6,0 L-6,-8 Q-6,-9.5 -4.5,-9.5 L4.5,-9.5 Q6,-9.5 6,-8 L6,0" fill="#fff" stroke="#444"/><path d="M-3.5,-9.5 L-3.5,-6.5 Q-3.5,-3.5 -0.5,-3.5 L1.5,-3.5 Q3.5,-3.5 3.5,-5.5 Q3.5,-7 2,-7 Q0.5,-7 0.5,-5.5" fill="none" stroke="#444"/></g>
<g transform="translate(697.5 406) rotate(43.4)"><path d="M-6,0 L-6,-8 Q-6,-9.5 -4.5,-9.5 L4.5,-9.5 Q6,-9.5 6,-8 L6,0" fill="#fff" stroke="#444"/><path d="M-3.5,-9.5 L-3.5,-6.5 Q-3.5,-3.5 -0.5,-3.5 L1.5,-3.5 Q3.5,-3.5 3.5,-5.5 Q3.5,-7 2,-7 Q0.5,-7 0.5,-5.5" fill="none" stroke="#444"/></g>
<g transform="translate(520.5 574.4) rotate(227)"><path d="M-6,0 L-6,-8 Q-6,-9.5 -4.5,-9.5 L4.5,-9.5 Q6,-9.5 6,-8 L6,0" fill="#fff" stroke="#444"/><path d="M-3.5,-9.5 L-3.5,-6.5 Q-3.5,-3.5 -0.5,-3.5 L1.5,-3.5 Q3.5,-3.5 3.5,-5.5 Q3.5,-7 2,-7 Q0.5,-7 0.5,-5.5" fill="none" stroke="#444"/></g>
<path d="M696,576.5 L696,588 L698.5,589.6 L701.5,589.6 L701.5,586.5 Q699,585.5 699,583.5 Q699,581.5 702,581.5 L705,581.5 Q708,581.5 708,583.5 Q708,585.5 705.5,586.5 L705.5,589.6 L708.5,589.6 L710.8,588 L710.8,576.5" stroke="#444" stroke-width="1" fill="none" />
<line x1="421.6" y1="386.6" x2="421.6" y2="599" stroke="#444" stroke-width="1" />
<path d="M421.6,387 L420.1,393 L423.1,393 Z" fill="#444"/>
<path d="M421.6,598.5 L420.1,592.5 L423.1,592.5 Z" fill="#444"/>
<line x1="421.6" y1="386.6" x2="505" y2="386.6" stroke="#444" stroke-width="1" />
<line x1="421.6" y1="599.2" x2="515" y2="599.2" stroke="#444" stroke-width="1" />
<line x1="446" y1="401.7" x2="446" y2="585" stroke="#444" stroke-width="1" />
<path d="M446,402 L444.5,408 L447.5,408 Z" fill="#444"/>
<path d="M446,584.5 L444.5,578.5 L447.5,578.5 Z" fill="#444"/>
<line x1="445.5" y1="401.7" x2="522" y2="401.7" stroke="#444" stroke-width="1" />
<line x1="445.5" y1="584.7" x2="530" y2="584.7" stroke="#444" stroke-width="1" />
<line x1="469.2" y1="508.6" x2="469.2" y2="617.5" stroke="#444" stroke-width="1" />
<path d="M469.2,585.2 L467.7,591.2 L470.7,591.2 Z" fill="#444"/>
<path d="M469.2,617 L467.7,611 L470.7,611 Z" fill="#444"/>
<line x1="469.2" y1="617.5" x2="535" y2="617.5" stroke="#444" stroke-width="1" />
<text x="420" y="559" font-size="14.6" fill="#383838" font-weight="normal" text-anchor="start" textLength="136" lengthAdjust="spacingAndGlyphs" transform="rotate(-90 420 559)" >Ceiling hole 890mm</text>
<text x="443.8" y="619" font-size="14.6" fill="#383838" font-weight="normal" text-anchor="start" textLength="257" lengthAdjust="spacingAndGlyphs" transform="rotate(-90 443.8 619)" >Gap between suspending rod 765mm</text>
<text x="466.6" y="582.8" font-size="14.6" fill="#383838" font-weight="normal" text-anchor="start" textLength="94.8" lengthAdjust="spacingAndGlyphs" transform="rotate(-90 466.6 582.8)" >Less than 100</text>
<rect x="536.4" y="584.6" width="9.6" height="37" rx="3" stroke="#444" stroke-width="1" fill="#fff" />
<line x1="536.6" y1="598.0" x2="545.8" y2="595.5" stroke="#444" stroke-width="0.9" />
<line x1="536.6" y1="600.1" x2="545.8" y2="597.6" stroke="#444" stroke-width="0.9" />
<line x1="536.6" y1="602.2" x2="545.8" y2="599.7" stroke="#444" stroke-width="0.9" />
<line x1="536.6" y1="604.3" x2="545.8" y2="601.8" stroke="#444" stroke-width="0.9" />
<line x1="536.6" y1="606.4" x2="545.8" y2="603.9" stroke="#444" stroke-width="0.9" />
<line x1="536.6" y1="608.5" x2="545.8" y2="606.0" stroke="#444" stroke-width="0.9" />
<line x1="536.6" y1="610.6" x2="545.8" y2="608.1" stroke="#444" stroke-width="0.9" />
<line x1="536.6" y1="612.7" x2="545.8" y2="610.2" stroke="#444" stroke-width="0.9" />
<line x1="536.6" y1="614.8" x2="545.8" y2="612.3" stroke="#444" stroke-width="0.9" />
<line x1="536.6" y1="616.9" x2="545.8" y2="614.4" stroke="#444" stroke-width="0.9" />
<line x1="536.6" y1="619.0" x2="545.8" y2="616.5" stroke="#444" stroke-width="0.9" />
<line x1="536.6" y1="621.1" x2="545.8" y2="618.6" stroke="#444" stroke-width="0.9" />
<path d="M534,584.6 L548,584.6" stroke="#333" stroke-width="2" fill="none" />
<path d="M672,576.5 L672,594 M675.5,576.5 L675.5,594 M687.3,576.5 L687.3,591 M691.9,576.5 L691.9,591" stroke="#444" stroke-width="1" fill="none" />
<rect x="671.5" y="594" width="4.5" height="6" rx="1" stroke="#444" stroke-width="1" fill="#666" />
<rect x="686.5" y="591" width="6.5" height="11" rx="1.5" stroke="#555" stroke-width="1" fill="#fff" />
<line x1="689.7" y1="593" x2="689.7" y2="601" stroke="#666" stroke-width="1" />
<rect x="834.5" y="343.7" width="275.8" height="29.7" fill="#5da833"/><line x1="880.5" y1="343.7" x2="880.5" y2="373.4" stroke="#c8f0b0" stroke-width="1"/><text x="857.6" y="364.9" font-size="14" font-weight="bold" fill="#fff" text-anchor="middle">SN</text><text x="995.5" y="364.9" font-size="14" font-weight="bold" fill="#fff" text-anchor="middle" textLength="70.7" lengthAdjust="spacingAndGlyphs">Part name</text><rect x="834.5" y="373.4" width="45.5" height="234.0" fill="#ededed"/><text x="857.6" y="389.6" font-size="14" fill="#484848" text-anchor="middle" >1</text><text x="995.5" y="389.6" font-size="14" fill="#484848" text-anchor="middle" textLength="57.4" lengthAdjust="spacingAndGlyphs">Gas pipe</text><line x1="834.5" y1="394.7" x2="1110.3" y2="394.7" stroke="#e2e2e2" stroke-width="1"/><text x="857.6" y="410.9" font-size="14" fill="#484848" text-anchor="middle" >2</text><text x="995.5" y="410.9" font-size="14" fill="#484848" text-anchor="middle" textLength="71" lengthAdjust="spacingAndGlyphs">Liquid pipe</text><line x1="834.5" y1="415.9" x2="1110.3" y2="415.9" stroke="#e2e2e2" stroke-width="1"/><text x="857.6" y="432.1" font-size="14" fill="#484848" text-anchor="middle" >3</text><text x="995.5" y="432.1" font-size="14" fill="#484848" text-anchor="middle" textLength="93.4" lengthAdjust="spacingAndGlyphs">Observe plate</text><line x1="834.5" y1="437.2" x2="1110.3" y2="437.2" stroke="#e2e2e2" stroke-width="1"/><text x="857.6" y="453.4" font-size="14" fill="#484848" text-anchor="middle" >4</text><text x="995.5" y="453.4" font-size="14" fill="#484848" text-anchor="middle" textLength="66.6" lengthAdjust="spacingAndGlyphs">Drain pipe</text><line x1="834.5" y1="458.5" x2="1110.3" y2="458.5" stroke="#e2e2e2" stroke-width="1"/><text x="857.6" y="474.7" font-size="14" fill="#484848" text-anchor="middle" >5</text><text x="995.5" y="474.7" font-size="14" fill="#484848" text-anchor="middle" textLength="96" lengthAdjust="spacingAndGlyphs">Air return grille</text><line x1="834.5" y1="479.8" x2="1110.3" y2="479.8" stroke="#e2e2e2" stroke-width="1"/><text x="857.6" y="496.0" font-size="14" fill="#484848" text-anchor="middle" >6</text><text x="995.5" y="496.0" font-size="14" fill="#484848" text-anchor="middle" textLength="61.3" lengthAdjust="spacingAndGlyphs">Air outlet</text><line x1="834.5" y1="501.0" x2="1110.3" y2="501.0" stroke="#e2e2e2" stroke-width="1"/><text x="857.6" y="517.2" font-size="14" fill="#484848" text-anchor="middle" >7</text><text x="995.5" y="517.2" font-size="14" fill="#484848" text-anchor="middle" textLength="176.4" lengthAdjust="spacingAndGlyphs">Drain soft pipe (accessory)</text><line x1="834.5" y1="522.3" x2="1110.3" y2="522.3" stroke="#e2e2e2" stroke-width="1"/><text x="857.6" y="538.5" font-size="14" fill="#484848" text-anchor="middle" >8</text><text x="995.5" y="538.5" font-size="14" fill="#484848" text-anchor="middle" textLength="119.7" lengthAdjust="spacingAndGlyphs">Power supply inlet</text><line x1="834.5" y1="543.6" x2="1110.3" y2="543.6" stroke="#e2e2e2" stroke-width="1"/><text x="857.6" y="559.8" font-size="14" fill="#484848" text-anchor="middle" >9</text><text x="995.5" y="559.8" font-size="14" fill="#484848" text-anchor="middle" textLength="72.3" lengthAdjust="spacingAndGlyphs">PQlineinlet</text><line x1="834.5" y1="564.9" x2="1110.3" y2="564.9" stroke="#e2e2e2" stroke-width="1"/><text x="857.6" y="581.1" font-size="14" fill="#484848" text-anchor="middle" textLength="15.7" lengthAdjust="spacingAndGlyphs">10</text><text x="995.5" y="581.1" font-size="14" fill="#484848" text-anchor="middle" textLength="87.6" lengthAdjust="spacingAndGlyphs">Fresh air inlet</text><line x1="834.5" y1="586.1" x2="1110.3" y2="586.1" stroke="#e2e2e2" stroke-width="1"/><text x="857.6" y="602.3" font-size="14" fill="#484848" text-anchor="middle" textLength="15.7" lengthAdjust="spacingAndGlyphs">11</text><text x="995.5" y="602.3" font-size="14" fill="#484848" text-anchor="middle" textLength="130.3" lengthAdjust="spacingAndGlyphs">Move eye (optional)</text><line x1="1110.3" y1="373.4" x2="1110.3" y2="607.4" stroke="#e2e2e2"/><line x1="834.5" y1="607.4" x2="1110.3" y2="607.4" stroke="#e2e2e2"/>
</svg>
</body></html>
